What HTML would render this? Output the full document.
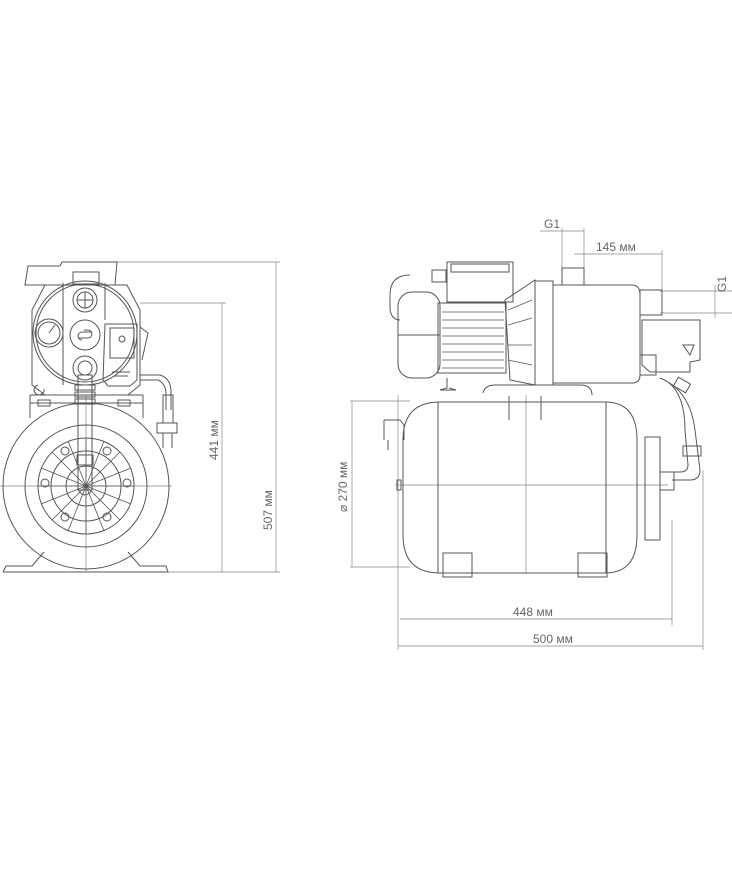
<!DOCTYPE html>
<html><head><meta charset="utf-8"><style>
html,body{margin:0;padding:0;background:#fff;width:732px;height:870px;overflow:hidden}
svg{display:block}
text{font-family:"Liberation Sans",sans-serif;fill:#666;stroke:none;font-size:12px}
</style></head><body>
<svg width="732" height="870" viewBox="0 0 732 870" fill="none" stroke="#555" stroke-width="1">
<g stroke="#888" stroke-width="0.7">
<line x1="115" y1="262" x2="280" y2="262"/>
<line x1="276" y1="262" x2="276" y2="572"/>
<line x1="140" y1="303" x2="226" y2="303"/>
<line x1="222" y1="303" x2="222" y2="572"/>
<line x1="160" y1="572" x2="280" y2="572"/>
<line x1="0" y1="486" x2="172" y2="486"/>
<line x1="86" y1="395" x2="86" y2="572"/>
</g>
<text transform="translate(218,460) rotate(-90)">441 мм</text>
<text transform="translate(272,530) rotate(-90)">507 мм</text>
<circle cx="86" cy="486" r="83"/>
<circle cx="86" cy="486" r="61"/>
<circle cx="86" cy="486" r="48"/>
<circle cx="86" cy="486" r="35"/>
<circle cx="86" cy="486" r="20"/>
<g stroke-width="0.8">
<line x1="86" y1="438" x2="86" y2="534"/><line x1="38" y1="486" x2="134" y2="486"/>
<line x1="52" y1="452" x2="120" y2="520"/><line x1="120" y1="452" x2="52" y2="520"/>
<line x1="68" y1="441" x2="104" y2="531"/><line x1="104" y1="441" x2="68" y2="531"/>
<line x1="41" y1="468" x2="131" y2="504"/><line x1="41" y1="504" x2="131" y2="468"/>
</g>
<circle cx="65" cy="451" r="4"/><circle cx="107" cy="451" r="4"/><circle cx="45" cy="483" r="4"/><circle cx="127" cy="483" r="4"/><circle cx="65" cy="517" r="4"/><circle cx="107" cy="517" r="4"/>
<path d="M3 572 L168 572 L166 566 L140 566 L128 552 M3 572 L6 566 L32 566 L44 552"/>
<path d="M30 395 L30 418 M143 395 L143 418 M30 395 L143 395 M30 403 L143 403"/>
<rect x="38" y="400" width="12" height="6"/><rect x="118" y="400" width="12" height="6"/>
<path d="M25 285 L28 266 L60 266 L62 262 L117 262 L115 285 Z"/>
<rect x="73" y="272" width="26" height="12"/>
<path d="M45 285 L127 285 L140 310 L140 385 L128 395 L45 395 L32 385 L32 310 Z"/>
<circle cx="85" cy="333" r="52"/><circle cx="85" cy="333" r="49"/>
<circle cx="49" cy="333" r="14"/><circle cx="49" cy="333" r="11"/>
<line x1="49" y1="333" x2="55" y2="325"/>
<circle cx="85" cy="300" r="12"/><circle cx="85" cy="300" r="8"/><line x1="77" y1="300" x2="93" y2="300"/><line x1="85" y1="292" x2="85" y2="308"/>
<circle cx="85" cy="335" r="15"/><path d="M78 338 h10 a4 4 0 0 0 0 -8 h-4 M92 332 h-10 a4 4 0 0 0 0 8"/>
<circle cx="85" cy="368" r="12"/><circle cx="85" cy="368" r="7"/>
<line x1="63" y1="283" x2="63" y2="385"/><line x1="105" y1="283" x2="105" y2="320"/>
<path d="M105 324 L137 324 L137 380 L130 386 L108 386 L103 380 Z"/>
<rect x="110" y="328" width="24" height="30"/>
<circle cx="122" cy="339" r="3"/>
<path d="M140 327 L148 333 L142 360"/>
<line x1="112" y1="372" x2="130" y2="372"/><line x1="114" y1="376" x2="128" y2="376"/>
<rect x="78" y="375" width="14" height="115"/>
<rect x="75" y="385" width="20" height="5"/><rect x="75" y="392" width="20" height="5"/><rect x="75" y="399" width="20" height="5"/>
<rect x="77" y="455" width="16" height="10"/>
<path d="M78 490 Q85 500 92 490"/>
<path d="M38 385 a5 5 0 1 0 6 4"/>
<path d="M140 375 L160 375 Q170 378 171 390 L171 410 M140 380 L158 380 Q165 383 166 392 L166 410"/>
<rect x="163" y="395" width="10" height="28"/>
<rect x="157" y="423" width="20" height="10"/>
<line x1="163" y1="433" x2="163" y2="448"/><line x1="172" y1="433" x2="172" y2="448"/>

<g stroke="#888" stroke-width="0.7">
<line x1="540" y1="231" x2="584" y2="231"/>
<line x1="562" y1="228" x2="562" y2="275"/><line x1="584" y1="228" x2="584" y2="275"/>
<line x1="574" y1="254" x2="662" y2="254"/>
<line x1="662" y1="250" x2="662" y2="292"/>
<line x1="660" y1="291" x2="732" y2="291"/><line x1="660" y1="313" x2="732" y2="313"/>
<line x1="715" y1="285" x2="715" y2="318"/>
<line x1="350" y1="401" x2="410" y2="401"/><line x1="350" y1="567" x2="410" y2="567"/>
<line x1="352" y1="401" x2="352" y2="567"/>
<line x1="398" y1="395" x2="398" y2="650"/>
<line x1="672" y1="520" x2="672" y2="625"/>
<line x1="703" y1="470" x2="703" y2="650"/>
<line x1="400" y1="619" x2="672" y2="619"/>
<line x1="398" y1="646" x2="703" y2="646"/>
<line x1="395" y1="485" x2="668" y2="485"/>
<line x1="526" y1="395" x2="526" y2="573"/>
</g>
<text x="544" y="228">G1</text>
<text x="596" y="251">145 мм</text>
<text transform="translate(726,292) rotate(-90)">G1</text>
<text transform="translate(347,512) rotate(-90)" font-size="11">⌀ 270 мм</text>
<text x="513" y="616">448 мм</text>
<text x="533" y="643">500 мм</text>
<path d="M440 402 L605 402 Q637 402 637 440 L637 535 Q637 573 605 573 L440 573 Q403 573 403 535 L403 440 Q403 402 440 402 Z"/>
<line x1="438" y1="402" x2="438" y2="573"/><line x1="606" y1="402" x2="606" y2="573"/>
<rect x="443" y="553" width="29" height="24"/><rect x="578" y="553" width="29" height="24"/>
<rect x="645" y="437" width="15" height="103"/><rect x="660" y="472" width="14" height="18"/>
<path d="M384 420 L384 440 M384 420 L400 420 L404 425 L404 440 M388 440 L388 450"/>
<rect x="397" y="480" width="4" height="10"/>
<path d="M483 393 Q485 385 495 385 L580 385 Q592 385 592 395"/>
<line x1="509" y1="396" x2="509" y2="420"/><line x1="541" y1="396" x2="541" y2="420"/>
<path d="M410 275 Q390 275 390 295 L390 310 Q392 320 400 320"/>
<rect x="398" y="292" width="42" height="86" rx="14"/>
<line x1="398" y1="335" x2="440" y2="335"/>
<rect x="438" y="303" width="68" height="70"/>
<g stroke-width="0.8"><line x1="442" y1="312" x2="504" y2="312"/><line x1="442" y1="320" x2="504" y2="320"/><line x1="442" y1="328" x2="504" y2="328"/><line x1="442" y1="336" x2="504" y2="336"/><line x1="442" y1="344" x2="504" y2="344"/><line x1="442" y1="352" x2="504" y2="352"/><line x1="442" y1="360" x2="504" y2="360"/><line x1="442" y1="368" x2="504" y2="368"/></g>
<rect x="447" y="262" width="66" height="40"/>
<rect x="451" y="264" width="58" height="8"/>
<rect x="432" y="270" width="14" height="12"/>
<path d="M447 378 L447 388 L440 390 L456 390 L449 388"/>
<path d="M505 300 L535 280 L535 385 L510 380 Z"/>
<g stroke-width="0.8"><line x1="508" y1="310" x2="532" y2="300"/><line x1="508" y1="325" x2="532" y2="318"/><line x1="508" y1="345" x2="532" y2="345"/><line x1="508" y1="360" x2="532" y2="365"/></g>
<rect x="535" y="281" width="18" height="104"/>
<path d="M553 285 L632 285 Q640 285 640 295 L640 375 Q640 383 632 383 L553 383"/>
<rect x="562" y="268" width="22" height="17"/>
<rect x="640" y="290" width="22" height="25"/>
<path d="M642 320 L700 320 L700 360 L690 362 L690 372 L650 372 L642 365 Z"/>
<path d="M683 345 L694 345 L690 355 Z"/>
<rect x="640" y="355" width="16" height="20"/>
<path d="M660 378 Q690 390 695 430 L700 470 Q700 480 690 480 L672 480 M668 382 Q685 395 685 430 L688 465 Q688 472 680 472 L672 472"/>
<rect x="683" y="446" width="18" height="10"/>
<rect x="675" y="380" width="14" height="10" transform="rotate(30 682 385)"/>
</svg>
</body></html>
